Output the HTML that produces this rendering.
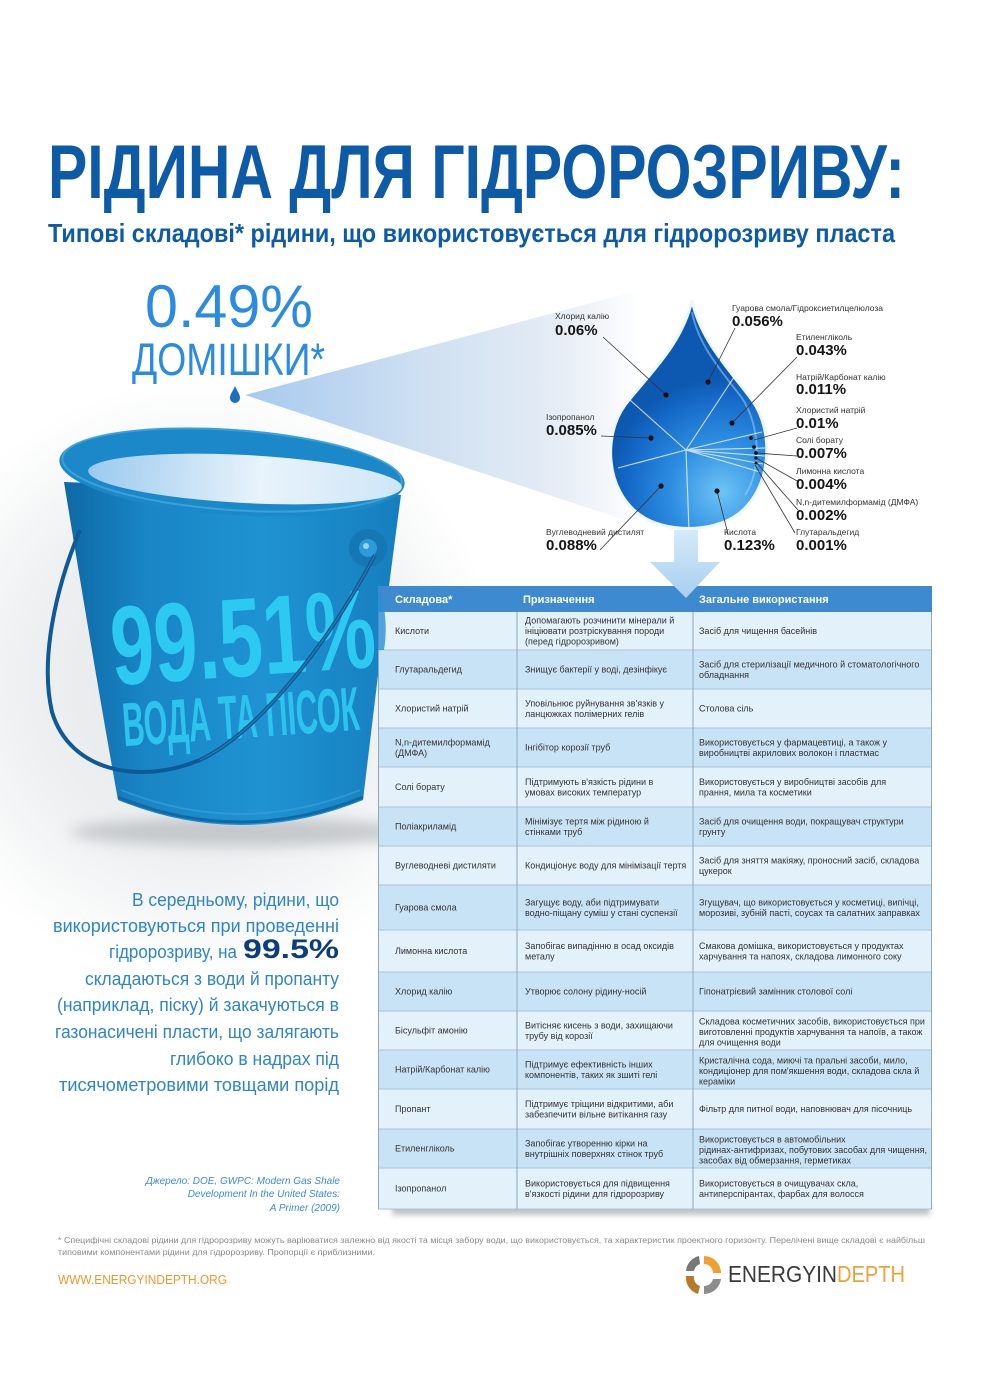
<!DOCTYPE html>
<html><head><meta charset="utf-8"><style>
html,body{margin:0;padding:0;background:#fff;}
svg{display:block;font-family:"Liberation Sans","DejaVu Sans",sans-serif;}
.lb{font-size:8.5px;fill:#333;}
.vl{font-size:15px;font-weight:bold;fill:#151515;}
.t{font-size:9px;fill:#333;}
.th{font-size:11px;font-weight:bold;fill:#fff;}
.lp{font-size:18.5px;fill:#2f85c8;}
</style></head><body>
<svg width="984" height="1393" viewBox="0 0 984 1393" xmlns="http://www.w3.org/2000/svg">
<defs>
<radialGradient id="bgv" cx="200" cy="680" r="300" gradientUnits="userSpaceOnUse">
<stop offset="0" stop-color="#e2e5e8"/><stop offset="0.6" stop-color="#eef0f1"/><stop offset="1" stop-color="#ffffff"/></radialGradient>
<linearGradient id="cone" x1="250" y1="0" x2="640" y2="0" gradientUnits="userSpaceOnUse">
<stop offset="0" stop-color="#a8caee"/><stop offset="0.45" stop-color="#cfe0f2"/><stop offset="0.8" stop-color="#e6edf5"/><stop offset="1" stop-color="#ffffff"/></linearGradient>
<linearGradient id="body" x1="60" y1="0" x2="400" y2="0" gradientUnits="userSpaceOnUse">
<stop offset="0" stop-color="#0e67a4"/><stop offset="0.25" stop-color="#1985c5"/><stop offset="0.6" stop-color="#1f93d2"/><stop offset="1" stop-color="#167ebe"/></linearGradient>
<linearGradient id="inner" x1="90" y1="0" x2="400" y2="0" gradientUnits="userSpaceOnUse">
<stop offset="0" stop-color="#9ccaee"/><stop offset="0.55" stop-color="#e8f3fb"/><stop offset="1" stop-color="#cfe6f7"/></linearGradient>
<radialGradient id="drop" cx="722" cy="492" r="115" gradientUnits="userSpaceOnUse">
<stop offset="0" stop-color="#6ec4f5"/><stop offset="0.45" stop-color="#2d8de2"/><stop offset="0.85" stop-color="#1366c4"/><stop offset="1" stop-color="#0d58b0"/></radialGradient>
<linearGradient id="arrow" x1="0" y1="530" x2="0" y2="598" gradientUnits="userSpaceOnUse">
<stop offset="0" stop-color="#d6ebf9"/><stop offset="1" stop-color="#a6cff0"/></linearGradient>
<filter id="blur" x="-20%" y="-50%" width="140%" height="200%"><feGaussianBlur stdDeviation="7"/></filter>
<filter id="blur2" x="-10%" y="-50%" width="120%" height="200%"><feGaussianBlur stdDeviation="3"/></filter>
</defs>
<rect width="984" height="1393" fill="#fff"/>
<ellipse cx="200" cy="680" rx="300" ry="300" fill="url(#bgv)"/>

<!-- Title -->
<text x="48" y="198" font-size="76" font-weight="bold" fill="#0d5aa7" textLength="857" lengthAdjust="spacingAndGlyphs">РІДИНА ДЛЯ ГІДРОРОЗРИВУ:</text>
<text x="48" y="242" font-size="26" font-weight="bold" fill="#0d5aa7" textLength="847" lengthAdjust="spacingAndGlyphs">Типові складові* рідини, що використовується для гідророзриву пласта</text>

<!-- cone -->
<polygon points="245,395 640,290 640,525" fill="url(#cone)"/>

<!-- 0.49% -->
<text x="145" y="327" font-size="60" fill="#2a8be0" textLength="168" lengthAdjust="spacingAndGlyphs">0.49%</text>
<text x="132" y="375" font-size="45" fill="#2a8be0" textLength="193" lengthAdjust="spacingAndGlyphs">ДОМІШКИ*</text>
<path d="M235,386 C237,391 240,394 240,398 A5,5 0 0 1 230,398 C230,394 233,391 235,386Z" fill="#1a6fc0"/>

<!-- bucket -->
<ellipse cx="245" cy="832" rx="175" ry="14" fill="#9aa0a6" opacity="0.5" filter="url(#blur)"/>
<path d="M64,482 C80,580 100,700 118,800 Q240,850 363,800 C375,700 388,590 401,495 Z" fill="url(#body)"/>
<path d="M118,797 Q240,847 363,797" fill="none" stroke="#0f69a5" stroke-width="3"/>
<path d="M121,790 Q240,838 360,790" fill="none" stroke="#3aa4de" stroke-width="2" opacity="0.6"/>
<ellipse cx="232" cy="472" rx="173" ry="43" transform="rotate(4 232 472)" fill="#1b89c9"/>
<ellipse cx="232" cy="470" rx="170" ry="40" transform="rotate(4 232 472)" fill="none" stroke="#48abe2" stroke-width="2" opacity="0.7"/>
<ellipse cx="245" cy="479" rx="157" ry="24" transform="rotate(3 245 479)" fill="url(#inner)"/>
<circle cx="368" cy="548" r="19" fill="#1577b4"/>
<circle cx="368" cy="548" r="9" fill="#2c9bd8"/>
<circle cx="366" cy="546" r="3" fill="#9fd3f2"/>

<text x="243" y="676" text-anchor="middle" font-size="112" font-weight="bold" fill="#2ccaf2" textLength="265" lengthAdjust="spacingAndGlyphs" transform="rotate(-4 243 640)">99.51%</text>
<text x="241" y="738" text-anchor="middle" font-size="62" font-weight="bold" fill="#2cc3ee" textLength="237" lengthAdjust="spacingAndGlyphs" transform="rotate(-4 241 720)">ВОДА ТА ПІСОК</text>

<path d="M375,555 C330,640 262,730 200,760 C140,785 70,772 52,712 C40,660 55,590 80,530" fill="none" stroke="#0f5a96" stroke-width="4"/>
<path d="M375,555 C330,640 262,730 200,760" fill="none" stroke="#3d8fc8" stroke-width="1.2" opacity="0.6"/>

<!-- big drop -->
<path d="M692,300 C700,340 730,370 752,400 C775,432 772,490 737,515 C712,533 665,533 640,515 C605,490 603,435 625,405 C648,375 682,345 692,300 Z" fill="url(#drop)" stroke="#eef7fd" stroke-width="3"/>
<path d="M692,312 C698,345 722,372 742,398 C760,425 762,470 745,495" fill="none" stroke="#9fd6f7" stroke-width="2" opacity="0.5"/>
<g stroke="#ffffff" stroke-width="1.1" opacity="0.75">
<line x1="686" y1="450" x2="630" y2="400"/>
<line x1="686" y1="450" x2="618" y2="468"/>
<line x1="686" y1="450" x2="689" y2="530"/>
<line x1="686" y1="450" x2="740" y2="368"/>
<line x1="686" y1="450" x2="762" y2="432"/>
<line x1="686" y1="450" x2="765" y2="448"/>
<line x1="686" y1="450" x2="765" y2="456"/>
<line x1="686" y1="450" x2="763" y2="464"/>
<line x1="686" y1="450" x2="760" y2="472"/>
</g>
<g stroke="#333" stroke-width="0.8" fill="none">
<line x1="603" y1="337" x2="666" y2="395"/>
<line x1="735" y1="328" x2="708" y2="382"/>
<line x1="797" y1="357" x2="732" y2="423"/>
<line x1="797" y1="428" x2="754" y2="440"/>
<line x1="797" y1="456" x2="756" y2="453"/>
<line x1="799" y1="482" x2="756" y2="458"/>
<line x1="798" y1="510" x2="756" y2="462"/>
<line x1="795" y1="533" x2="755" y2="465"/>
<line x1="601" y1="436" x2="651" y2="438"/>
<line x1="600" y1="550" x2="661" y2="486"/>
<line x1="728" y1="534" x2="717" y2="491"/>
</g>
<g fill="#111">
<circle cx="666" cy="395" r="2.6"/><circle cx="708" cy="382" r="2.6"/><circle cx="732" cy="423" r="2.6"/>
<circle cx="651" cy="438" r="2.6"/><circle cx="661" cy="486" r="2.6"/><circle cx="717" cy="491" r="2.6"/>
<circle cx="751" cy="438" r="1.9"/><circle cx="754" cy="447" r="1.9"/><circle cx="756" cy="453" r="1.9"/>
<circle cx="756" cy="458" r="1.7"/><circle cx="756" cy="463" r="1.5"/>
</g>
<text class="lb" x="555" y="319">Хлорид калію</text><text class="vl" x="555" y="335">0.06%</text>
<text class="lb" x="732" y="311">Гуарова смола/Гідроксиетилцелюлоза</text><text class="vl" x="732" y="326">0.056%</text>
<text class="lb" x="796" y="340">Етиленгліколь</text><text class="vl" x="796" y="355">0.043%</text>
<text class="lb" x="796" y="380">Натрій/Карбонат калію</text><text class="vl" x="796" y="394">0.011%</text>
<text class="lb" x="796" y="413">Хлористий натрій</text><text class="vl" x="796" y="428">0.01%</text>
<text class="lb" x="796" y="443">Солі борату</text><text class="vl" x="796" y="458">0.007%</text>
<text class="lb" x="796" y="474">Лимонна кислота</text><text class="vl" x="796" y="489">0.004%</text>
<text class="lb" x="796" y="505">N,n-дитемилформамід (ДМФА)</text><text class="vl" x="796" y="520">0.002%</text>
<text class="lb" x="796" y="535">Глутаральдегид</text><text class="vl" x="796" y="550">0.001%</text>
<text class="lb" x="546" y="420">Ізопропанол</text><text class="vl" x="546" y="435">0.085%</text>
<text class="lb" x="546" y="535">Вуглеводневий дистилят</text><text class="vl" x="546" y="550">0.088%</text>
<text class="lb" x="724" y="535">Кислота</text><text class="vl" x="724" y="550">0.123%</text>

<!-- left paragraph -->
<text class="lp" x="132" y="906" textLength="207" lengthAdjust="spacingAndGlyphs">В середньому, рідини, що</text>
<text class="lp" x="53" y="932" textLength="286" lengthAdjust="spacingAndGlyphs">використовуються при проведенні</text>
<text class="lp" x="109" y="958" textLength="128" lengthAdjust="spacingAndGlyphs">гідророзриву, на</text>
<text x="243" y="958" font-size="27" font-weight="bold" fill="#0b3d7e" textLength="96" lengthAdjust="spacingAndGlyphs">99.5%</text>
<text class="lp" x="85" y="985" textLength="254" lengthAdjust="spacingAndGlyphs">складаються з води й пропанту</text>
<text class="lp" x="57" y="1011" textLength="282" lengthAdjust="spacingAndGlyphs">(наприклад, піску) й закачуються в</text>
<text class="lp" x="55" y="1038" textLength="284" lengthAdjust="spacingAndGlyphs">газонасичені пласти, що залягають</text>
<text class="lp" x="170" y="1065" textLength="169" lengthAdjust="spacingAndGlyphs">глибоко в надрах під</text>
<text class="lp" x="59" y="1091" textLength="280" lengthAdjust="spacingAndGlyphs">тисячометровими товщами  порід</text>

<g font-size="10" font-style="italic" fill="#3b8ad6" text-anchor="end">
<text x="340" y="1184">Джерело: DOE, GWPC: Modern Gas Shale</text>
<text x="340" y="1197">Development In the United States:</text>
<text x="340" y="1211">A Primer (2009)</text>
</g>

<!-- table -->
<rect x="392" y="1203" width="538" height="12" fill="#8a9098" opacity="0.55" filter="url(#blur2)"/>
<rect x="378" y="586" width="554" height="26" fill="#3d8ad0"/>
<g>
<rect x="378" y="612" width="554" height="38" fill="#e3f1fb"/>
<rect x="378" y="650" width="554" height="39" fill="#c9e3f6"/>
<rect x="378" y="689" width="554" height="39" fill="#e3f1fb"/>
<rect x="378" y="728" width="554" height="39" fill="#c9e3f6"/>
<rect x="378" y="767" width="554" height="40" fill="#e3f1fb"/>
<rect x="378" y="807" width="554" height="39" fill="#c9e3f6"/>
<rect x="378" y="846" width="554" height="39" fill="#e3f1fb"/>
<rect x="378" y="885" width="554" height="45" fill="#c9e3f6"/>
<rect x="378" y="930" width="554" height="42" fill="#e3f1fb"/>
<rect x="378" y="972" width="554" height="39" fill="#c9e3f6"/>
<rect x="378" y="1011" width="554" height="39" fill="#e3f1fb"/>
<rect x="378" y="1050" width="554" height="39" fill="#c9e3f6"/>
<rect x="378" y="1089" width="554" height="40" fill="#e3f1fb"/>
<rect x="378" y="1129" width="554" height="39" fill="#c9e3f6"/>
<rect x="378" y="1168" width="554" height="41" fill="#e3f1fb"/>
</g>
<g stroke="#a7c3d8" stroke-width="1">
<line x1="378" y1="650" x2="932" y2="650"/><line x1="378" y1="689" x2="932" y2="689"/>
<line x1="378" y1="728" x2="932" y2="728"/><line x1="378" y1="767" x2="932" y2="767"/>
<line x1="378" y1="807" x2="932" y2="807"/><line x1="378" y1="846" x2="932" y2="846"/>
<line x1="378" y1="885" x2="932" y2="885"/><line x1="378" y1="930" x2="932" y2="930"/>
<line x1="378" y1="972" x2="932" y2="972"/><line x1="378" y1="1011" x2="932" y2="1011"/>
<line x1="378" y1="1050" x2="932" y2="1050"/><line x1="378" y1="1089" x2="932" y2="1089"/>
<line x1="378" y1="1129" x2="932" y2="1129"/><line x1="378" y1="1168" x2="932" y2="1168"/>
<line x1="378" y1="1209" x2="932" y2="1209"/>
</g>
<g stroke="#8ea8bd" stroke-width="1">
<line x1="517" y1="612" x2="517" y2="1209"/><line x1="693" y1="612" x2="693" y2="1209"/>
<line x1="378.5" y1="612" x2="378.5" y2="1209"/><line x1="931.5" y1="612" x2="931.5" y2="1209"/>
</g>
<path d="M375,580 C385,600 388,625 384,650 L378,650 L378,586 Z" fill="#2c8fd3" opacity="0.8"/>
<text class="th" x="395" y="603">Складова*</text>
<text class="th" x="523" y="603">Призначення</text>
<text class="th" x="699" y="603">Загальне використання</text>

<g class="t">
<text class="t" x="395" y="634">Кислоти</text>
<text class="t" x="525" y="623.5">Допомагають розчинити мінерали й</text>
<text class="t" x="525" y="634">ініціювати розтріскування породи</text>
<text class="t" x="525" y="644.5">(перед гідророзривом)</text>
<text class="t" x="699" y="634">Засіб для чищення басейнів</text>

<text class="t" x="395" y="672.5">Глутаральдегид</text>
<text class="t" x="525" y="672.5">Знищує бактерії у воді, дезінфікує</text>
<text class="t" x="699" y="667.3">Засіб для стерилізації медичного й стоматологічного</text>
<text class="t" x="699" y="677.8">обладнання</text>

<text class="t" x="395" y="711.5">Хлористий натрій</text>
<text class="t" x="525" y="706.3">Уповільнює руйнування зв'язків у</text>
<text class="t" x="525" y="716.8">ланцюжках полімерних гелів</text>
<text class="t" x="699" y="711.5">Столова сіль</text>

<text class="t" x="395" y="745.3">N,n-дитемилформамід</text>
<text class="t" x="395" y="755.8">(ДМФА)</text>
<text class="t" x="525" y="750.5">Інгібітор корозії труб</text>
<text class="t" x="699" y="745.3">Використовується  у фармацевтиці, а також у</text>
<text class="t" x="699" y="755.8">виробництві акрилових волокон і пластмас</text>

<text class="t" x="395" y="790">Солі борату</text>
<text class="t" x="525" y="784.8">Підтримують в'язкість рідини в</text>
<text class="t" x="525" y="795.3">умовах високих температур</text>
<text class="t" x="699" y="784.8">Використовується у виробництві засобів для</text>
<text class="t" x="699" y="795.3">прання, мила та косметики</text>

<text class="t" x="395" y="829.5">Поліакриламід</text>
<text class="t" x="525" y="824.3">Мінімізує тертя між рідиною й</text>
<text class="t" x="525" y="834.8">стінками труб</text>
<text class="t" x="699" y="824.3">Засіб для очищення води, покращувач структури</text>
<text class="t" x="699" y="834.8">грунту</text>

<text class="t" x="395" y="868.5">Вуглеводневі дистиляти</text>
<text class="t" x="525" y="868.5">Кондиціонує воду для мінімізації тертя</text>
<text class="t" x="699" y="863.3">Засіб для зняття макіяжу, проносний засіб, складова</text>
<text class="t" x="699" y="873.8">цукерок</text>

<text class="t" x="395" y="910.5">Гуарова смола</text>
<text class="t" x="525" y="905.3">Загущує воду, аби підтримувати</text>
<text class="t" x="525" y="915.8">водно-піщану суміш у стані суспензії</text>
<text class="t" x="699" y="905.3">Згущувач, що використовується у косметиці, випічці,</text>
<text class="t" x="699" y="915.8">морозиві, зубній пасті, соусах та салатних заправках</text>

<text class="t" x="395" y="954">Лимонна кислота</text>
<text class="t" x="525" y="948.8">Запобігає випадінню в осад оксидів</text>
<text class="t" x="525" y="959.3">металу</text>
<text class="t" x="699" y="948.8">Смакова домішка, використовується у продуктах</text>
<text class="t" x="699" y="959.3">харчування та напоях, складова лимонного соку</text>

<text class="t" x="395" y="994.5">Хлорид калію</text>
<text class="t" x="525" y="994.5">Утворює солону рідину-носій</text>
<text class="t" x="699" y="994.5">Гіпонатрієвий замінник столової солі</text>

<text class="t" x="395" y="1033.5">Бісульфіт амонію</text>
<text class="t" x="525" y="1028.3">Витісняє кисень з води, захищаючи</text>
<text class="t" x="525" y="1038.8">трубу від корозії</text>
<text class="t" x="699" y="1024.5">Складова косметичних засобів, використовується при</text>
<text class="t" x="699" y="1035">виготовленні продуктів харчування та напоїв, а також</text>
<text class="t" x="699" y="1045.5">для очищення води</text>

<text class="t" x="395" y="1072.5">Натрій/Карбонат калію</text>
<text class="t" x="525" y="1067.3">Підтримує ефективність інших</text>
<text class="t" x="525" y="1077.8">компонентів, таких як зшиті гелі</text>
<text class="t" x="699" y="1063.5">Кристалічна сода, миючі та пральні засоби, мило,</text>
<text class="t" x="699" y="1074">кондиціонер для пом'якшення води,  складова скла й</text>
<text class="t" x="699" y="1084.5">кераміки</text>

<text class="t" x="395" y="1112">Пропант</text>
<text class="t" x="525" y="1106.8">Підтримує тріщини відкритими, аби</text>
<text class="t" x="525" y="1117.3">забезпечити вільне витікання газу</text>
<text class="t" x="699" y="1112">Фільтр для питної води, наповнювач для пісочниць</text>

<text class="t" x="395" y="1151.5">Етиленгліколь</text>
<text class="t" x="525" y="1146.3">Запобігає утворенню кірки на</text>
<text class="t" x="525" y="1156.8">внутрішніх поверхнях стінок труб</text>
<text class="t" x="699" y="1142.5">Використовується в автомобільних</text>
<text class="t" x="699" y="1153">рідинах-антифризах, побутових засобах для чищення,</text>
<text class="t" x="699" y="1163.5">засобах від обмерзання,  герметиках</text>

<text class="t" x="395" y="1191.5">Ізопропанол</text>
<text class="t" x="525" y="1186.3">Використовується для підвищення</text>
<text class="t" x="525" y="1196.8">в'язкості рідини для гідророзриву</text>
<text class="t" x="699" y="1186.3">Використовується в очищувачах скла,</text>
<text class="t" x="699" y="1196.8">антиперспірантах, фарбах для волосся</text>
</g>

<!-- arrow -->
<path d="M674,530 L698,530 L698,562 L720,562 L686,598 L650,562 L674,562 Z" fill="url(#arrow)"/>

<!-- footer -->
<text x="58" y="1243" font-size="8" fill="#8a8a8a" textLength="867" lengthAdjust="spacingAndGlyphs">* Специфічні складові рідини для гідророзриву можуть варіюватися залежно від якості та місця забору води, що використовується, та характеристик проектного горизонту. Перелічені вище складові є найбільш</text>
<text x="58" y="1255" font-size="8" fill="#8a8a8a" textLength="317" lengthAdjust="spacingAndGlyphs">типовими компонентами рідини для гідророзриву. Пропорції є приблизними.</text>
<text x="58" y="1284" font-size="13" fill="#f0962d" textLength="169" lengthAdjust="spacingAndGlyphs">WWW.ENERGYINDEPTH.ORG</text>

<g>
<path d="M704,1256 A17,17 0 0 1 721,1273 L713,1273 A9,9 0 0 0 704,1264 Z" fill="#f0a030"/>
<path d="M721,1279 A17,17 0 0 1 704,1294 L704,1286 A9,9 0 0 0 713,1279 Z" fill="#8d8d8d"/>
<path d="M698,1294 A17,17 0 0 1 686,1276 L694,1276 A9,9 0 0 0 700,1286 Z" fill="#b8792a"/>
<path d="M686,1271 A17,17 0 0 1 699,1256 L700,1264 A9,9 0 0 0 694,1271 Z" fill="#777"/>
</g>
<text x="728" y="1282" font-size="23" fill="#3a3a3a" textLength="109" lengthAdjust="spacingAndGlyphs">ENERGYIN</text>
<text x="837" y="1282" font-size="23" fill="#eaa33a" textLength="68" lengthAdjust="spacingAndGlyphs">DEPTH</text>
</svg>
</body></html>
